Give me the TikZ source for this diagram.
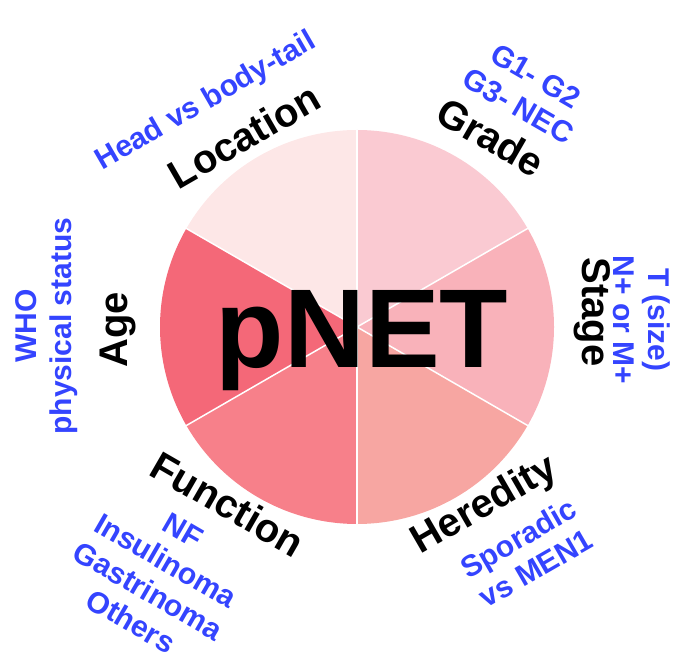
\documentclass[tikz,border=0pt]{standalone}
\usepackage{fontspec}
\setmainfont{Liberation Sans}
\definecolor{cloc}{RGB}{253,231,231}
\definecolor{cgrade}{RGB}{250,202,210}
\definecolor{cstage}{RGB}{249,178,186}
\definecolor{chered}{RGB}{247,166,162}
\definecolor{cfunc}{RGB}{247,128,138}
\definecolor{cage}{RGB}{244,104,120}
\definecolor{subblue}{RGB}{52,68,255}
\begin{document}
\begin{tikzpicture}[x=1pt, y=1pt, line join=round, line cap=round,
  lab/.style={font=\fontsize{40}{46}\selectfont\bfseries, inner sep=0pt},
  sub/.style={font=\fontsize{30}{35}\selectfont\bfseries, text=subblue, align=center, inner sep=0pt}]
  \def\cx{357} \def\cy{326} \def\r{197} % centre, rayon
  \useasboundingbox (0,0) rectangle (684,653);
  \coordinate (O) at (\cx,\cy);
  % secteurs
  \foreach \a/\c in {30/cgrade, 90/cloc, 150/cage, 210/cfunc, 270/chered, 330/cstage}
    \fill[\c] (O) -- ++(\a:\r) arc[start angle=\a, delta angle=60, radius=\r] -- cycle;
  \foreach \a in {30,90,...,330}
    \draw[white, line width=1.5pt] (O) -- ++(\a:\r);
  \node[font=\fontsize{112}{120}\selectfont\bfseries, inner sep=0pt, anchor=base] (pnet) at (362,285) {pNET};
  % titres
  \node[lab, rotate=30]  (loc)   at (244,517) {Location};
  \node[lab, rotate=-30] (grade) at (491,516) {Grade};
  \node[lab, rotate=-90] (stage) at (592,341) {Stage};
  \node[lab, rotate=30]  (hered) at (485,147) {Heredity};
  \node[lab, rotate=-30] (func)  at (228,149) {Function};
  \node[lab, rotate=90]  (age)   at (118,323) {Age};
  % details
  \node[sub, rotate=30]  (locsub)   at (206,551) {Head vs body-tail};
  \node[sub, rotate=-30] (gradesub) at (527,562) {G1- G2\\G3- NEC};
  \node[sub, rotate=-90] (stagesub) at (642,333) {T (size)\\N+ or M+};
  \node[sub, rotate=30]  (heredsub) at (527,100) {Sporadic\\vs MEN1};
  \node[sub, rotate=-30] (funcsub)  at (157,77)  {NF\\Insulinoma\\Gastrinoma\\Others};
  \node[sub, rotate=90]  (agesub)   at (47,327)  {WHO\\physical status};
\end{tikzpicture}
\end{document}
